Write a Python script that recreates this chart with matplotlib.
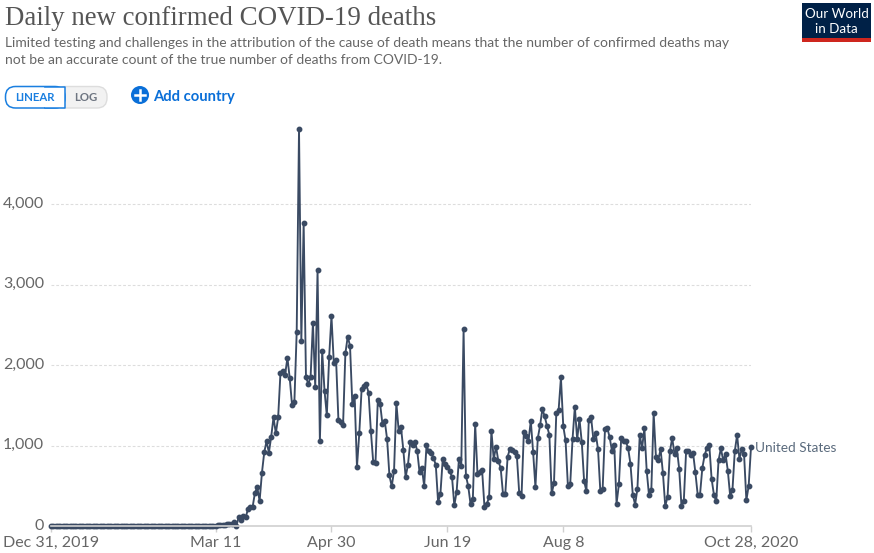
import pandas as pd
import matplotlib.pyplot as plt
from matplotlib.patches import Circle, FancyBboxPatch, Rectangle
from matplotlib.transforms import ScaledTranslation

plt.rcParams['font.family'] = ['Lato', 'DejaVu Sans']

# Daily values, Dec 31 2019 to Oct 28 2020
deaths_jan_feb = [
    0, 0, 0, 0, 0, 0, 0, 0, 0, 0, 0, 0, 0, 0, 0, 0, 0, 0, 0, 0,
    0, 0, 0, 0, 0, 0, 0, 0, 0, 0, 0, 0, 0, 0, 0, 0, 0, 0, 0, 0,
    0, 0, 0, 0, 0, 0, 0, 0, 0, 0, 0, 0, 0, 0, 0, 0, 0, 0, 0, 0,
]
deaths_mar = [
    1, 0, 1, 5, 2, 1, 2, 3, 4, 3, 2, 5, 7,
    10, 10, 15, 20, 20, 25, 45, 0, 115, 75, 130, 110, 210, 240, 240, 415, 480,
]
deaths_apr = [
    310, 660, 915, 1055, 910, 1110, 1350, 1150, 1350, 1905, 1925, 1880, 2090, 1835, 1500,
    1540, 2410, 4928, 2295, 3765, 1850, 1765, 1850, 2525, 1725, 3177, 1050, 2170, 1680, 1373,
]
deaths_may = [
    2100, 2606, 2027, 2060, 1315, 1290, 1250, 2143, 2350, 2242, 1514, 1613, 732, 1150, 1696,
    1742, 1766, 1655, 1180, 798, 786, 1568, 1514, 1266, 1303, 1080, 629, 492, 687, 1530, 1183,
]
deaths_jun = [
    1225, 947, 608, 761, 1042, 1001, 1042, 935, 666, 720, 496, 1001, 927, 906, 848,
    761, 298, 397, 831, 774, 732, 678, 612, 256, 426, 836, 749, 2441, 625, 496,
]
deaths_jul = [
    273, 339, 1266, 645, 674, 691, 240, 273, 356, 1183, 831, 985, 807, 720, 401, 401,
    860, 960, 947, 918, 865, 410, 372, 1167, 1121, 1055, 1307, 918, 480, 1088, 1249,
]
deaths_aug = [
    1452, 1361, 1241, 1133, 405, 530, 1402, 1440, 1845, 1241, 1063, 500, 517, 1076, 1481, 1076,
    1328, 1038, 558, 430, 1311, 1353, 1076, 1150, 952, 430, 463, 1200, 1216, 1105, 935,
]
deaths_sep = [
    1009, 277, 517, 1092, 1055, 1051, 964, 770, 389, 265, 463, 1133, 964, 1216, 687,
    380, 447, 1402, 852, 823, 952, 658, 248, 360, 927, 1092, 894, 968, 712, 248,
]
deaths_oct = [
    306, 927, 927, 877, 910, 666, 389, 389, 720, 881, 972, 1009, 587, 389, 306,
    815, 964, 815, 898, 687, 376, 447, 927, 1133, 836, 952, 894, 319, 500, 980,
]
deaths = (deaths_jan_feb + deaths_mar + deaths_apr + deaths_may + deaths_jun
          + deaths_jul + deaths_aug + deaths_sep + deaths_oct)

dates = pd.date_range('2019-12-31', periods=len(deaths))
x_ticks = pd.to_datetime(['2019-12-31', '2020-03-11', '2020-04-30', '2020-06-19', '2020-08-08', '2020-10-28'])
x_labels = ['Dec 31, 2019', 'Mar 11', 'Apr 30', 'Jun 19', 'Aug 8', 'Oct 28, 2020']
y_ticks = [0, 1000, 2000, 3000, 4000]
y_labels = ['0', '1,000', '2,000', '3,000', '4,000']

W, H = 874, 553
fig = plt.figure(figsize=(W / 100, H / 100), dpi=100, facecolor='white')

# Chart area, placed by pixels
left, right, bottom, top = 51, 751, 526, 120
ax = fig.add_axes([left / W, 1 - bottom / H, (right - left) / W, (bottom - top) / H])
ax.set_xlim(dates[0], pd.Timestamp('2020-10-28'))
ax.set_ylim(0, (bottom - top) / 0.0805)
ax.patch.set_alpha(0)

for s in ['top', 'right', 'left']:
    ax.spines[s].set_visible(False)
ax.spines['bottom'].set_color('#d0d0d0')
ax.spines['bottom'].set_linewidth(1.2)

ax.set_xticks(x_ticks)
ax.set_xticklabels(x_labels)
ax.set_yticks(y_ticks)
ax.set_yticklabels(y_labels)
ax.tick_params(axis='x', length=4, width=1, color='#d0d0d0', labelcolor='#666666', labelsize=11.5, pad=3)
ax.tick_params(axis='y', length=0, labelcolor='#666666', labelsize=11.5, pad=5)
ax.yaxis.grid(True, color='#dddddd', linestyle=(0, (2.5, 1.8)), linewidth=0.8)
ax.set_axisbelow(True)
ax.get_ygridlines()[0].set_visible(False)

# y labels sit a little above their grid lines
nudge = ScaledTranslation(0, 1.3 / 72, fig.dpi_scale_trans)
for label in ax.get_yticklabels():
    label.set_transform(label.get_transform() + nudge)

ax.plot(dates, deaths, color='#3a4a63', linewidth=1.35, marker='o', markersize=3.2, clip_on=False)
ax.annotate('United States', (dates[-1], deaths[-1]), xytext=(3, -0.5), textcoords='offset points',
            va='center', ha='left', color='#5b6b7d', fontsize=9.8)

# Header drawn on an overlay in pixel coordinates
ov = fig.add_axes([0, 0, 1, 1])
ov.set_xlim(0, W)
ov.set_ylim(H, 0)
ov.axis('off')
ov.patch.set_alpha(0)

ov.text(5, 18.5, 'Daily new confirmed COVID-19 deaths', family=['Liberation Serif', 'DejaVu Serif'],
        fontsize=19.4, color='#555555', va='center', ha='left')
ov.text(5, 43, 'Limited testing and challenges in the attribution of the cause of death means that the number of confirmed deaths may',
        fontsize=10.03, color='#666666', va='center', ha='left')
ov.text(5, 60, 'not be an accurate count of the true number of deaths from COVID-19.',
        fontsize=10.03, color='#666666', va='center', ha='left')

# Linear / log toggle
ov.add_patch(FancyBboxPatch((55, 86.5), 52, 21.5, boxstyle='round,pad=0,rounding_size=10',
                            facecolor='#f2f2f2', edgecolor='#dddddd', linewidth=1))
ov.add_patch(FancyBboxPatch((5.5, 86.5), 59.5, 21.5, boxstyle='round,pad=0,rounding_size=10',
                            facecolor='white', edgecolor='#1a7fe0', linewidth=1.1))
ov.add_patch(Rectangle((45, 86.5), 20, 21.5, facecolor='white', edgecolor='none'))
ov.plot([45, 65, 65, 45], [86.5, 86.5, 108, 108], color='#1a7fe0', linewidth=1.1)
ov.text(35, 97.5, 'LINEAR', fontsize=8.2, fontweight='bold', color='#1a7fe0', va='center', ha='center')
ov.text(86, 97.5, 'LOG', fontsize=8.2, fontweight='bold', color='#6e7581', va='center', ha='center')

# Add country
ov.add_patch(Circle((140, 95), 9, facecolor='#0a6fd8', edgecolor='none'))
ov.plot([135, 145], [95, 95], color='white', linewidth=1.8)
ov.plot([140, 140], [90, 100], color='white', linewidth=1.8)
ov.text(153, 97, 'Add country', fontsize=10.6, fontweight='bold', color='#0a6fd8', va='center', ha='left')

# Logo
ov.add_patch(Rectangle((802, 3), 69, 39, facecolor='#002147', edgecolor='none'))
ov.add_patch(Rectangle((802, 38), 69, 4, facecolor='#ce261e', edgecolor='none'))
ov.text(836.5, 13.5, 'Our World', fontsize=9.6, color='white', va='center', ha='center')
ov.text(836.5, 29, 'in Data', fontsize=9.6, color='white', va='center', ha='center')

fig.savefig('out.png', dpi=100)
